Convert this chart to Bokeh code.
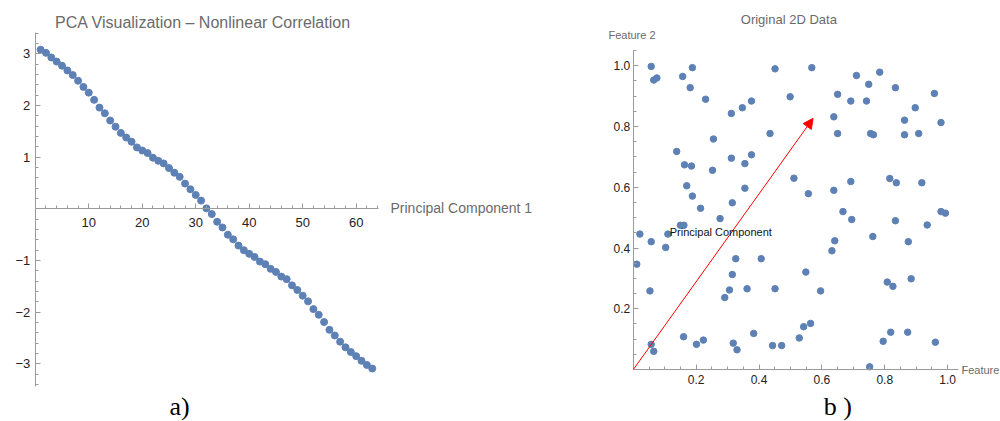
from bokeh.plotting import figure
from bokeh.models import (LinearAxis, FixedTicker, Range1d, Label, Arrow, NormalHead,
                          ColumnDataSource, CustomJSTickFormatter, PrintfTickFormatter)
from bokeh.layouts import row
from bokeh.embed import file_html
from bokeh.resources import INLINE

# ---------------- data ----------------
pc_index = list(range(1, 64))
pc1_values = [3.08, 3.02, 2.93, 2.85, 2.77, 2.68, 2.59, 2.48, 2.36, 2.25,
              2.11, 1.96, 1.85, 1.71, 1.59, 1.47, 1.38, 1.30, 1.19, 1.13,
              1.08, 0.99, 0.93, 0.88, 0.79, 0.70, 0.62, 0.49, 0.38, 0.27,
              0.16, 0.01, -0.10, -0.25, -0.36, -0.50, -0.59, -0.71, -0.80, -0.87,
              -0.93, -1.02, -1.07, -1.16, -1.22, -1.31, -1.36, -1.48, -1.57, -1.68,
              -1.79, -1.94, -2.05, -2.19, -2.34, -2.45, -2.57, -2.68, -2.77, -2.85,
              -2.94, -3.02, -3.09]

feature1 = [0.057, 0.065, 0.075, 0.157, 0.188, 0.181, 0.230, 0.312, 0.347, 0.376,
            0.451, 0.499, 0.435, 0.255, 0.138, 0.163, 0.185, 0.252, 0.312, 0.355,
            0.376, 0.511, 0.170, 0.188, 0.214, 0.315, 0.355, 0.557, 0.568, 0.710,
            0.784, 0.749, 0.834, 0.650, 0.692, 0.742, 0.958, 0.897, 0.638, 0.863,
            0.979, 0.650, 0.755, 0.764, 0.863, 0.908, 0.692, 0.816, 0.837, 0.918,
            0.638, 0.667, 0.979, 0.993, 0.276, 0.150, 0.161, 0.021, 0.110, 0.057,
            0.103, 0.011, 0.326, 0.407, 0.315, 0.306, 0.291, 0.362, 0.451, 0.053,
            0.549, 0.542, 0.528, 0.383, 0.160, 0.223, 0.201, 0.057, 0.065, 0.318,
            0.330, 0.443, 0.472, 0.695, 0.834, 0.935, 0.762, 0.875, 0.641, 0.632,
            0.808, 0.826, 0.884, 0.596, 0.564, 0.819, 0.873, 0.795, 0.961, 0.752]
feature2 = [0.998, 0.953, 0.960, 0.965, 0.994, 0.928, 0.890, 0.843, 0.862, 0.884,
            0.990, 0.898, 0.777, 0.759, 0.718, 0.674, 0.670, 0.656, 0.696, 0.678,
            0.707, 0.630, 0.605, 0.571, 0.531, 0.549, 0.597, 0.579, 0.994, 0.968,
            0.979, 0.939, 0.928, 0.906, 0.884, 0.884, 0.909, 0.862, 0.832, 0.821,
            0.813, 0.777, 0.777, 0.773, 0.773, 0.777, 0.619, 0.629, 0.615, 0.615,
            0.590, 0.520, 0.520, 0.515, 0.497, 0.475, 0.475, 0.446, 0.446, 0.421,
            0.402, 0.347, 0.365, 0.365, 0.313, 0.262, 0.237, 0.266, 0.266, 0.259,
            0.321, 0.141, 0.104, 0.119, 0.108, 0.097, 0.083, 0.083, 0.060, 0.087,
            0.065, 0.079, 0.079, 0.494, 0.490, 0.476, 0.438, 0.421, 0.424, 0.391,
            0.288, 0.274, 0.299, 0.259, 0.152, 0.123, 0.123, 0.093, 0.090, 0.009]

pc_arrow_start = (0.0, 0.0)
pc_arrow_end = (0.572, 0.827)

left_x_major = [10, 20, 30, 40, 50, 60]
left_x_minor = list(range(2, 65, 2))
left_y_major = [-3, -2, -1, 1, 2, 3]
left_y_minor = [round(-3.4 + 0.2 * i, 1) for i in range(35)]
right_major = [0.2, 0.4, 0.6, 0.8, 1.0]
right_minor = [round(0.05 * i, 2) for i in range(1, 22)]

# ---------------- style ----------------
DOT = "#5E81B5"
AXIS_GRAY = "#9a9a9a"
LABEL_DARK = "#222222"
TEXT_GRAY = "#6b6b6b"
SANS = "Liberation Sans"
SERIF = "Liberation Serif"


def style_axis(ax, size, standoff):
    ax.axis_line_color = AXIS_GRAY
    ax.major_tick_line_color = AXIS_GRAY
    ax.minor_tick_line_color = AXIS_GRAY
    ax.major_tick_in = 5
    ax.major_tick_out = 0
    ax.minor_tick_in = 3
    ax.minor_tick_out = 0
    ax.major_label_text_font = SANS
    ax.major_label_text_font_size = size
    ax.major_label_text_color = LABEL_DARK
    ax.major_label_standoff = standoff


minus_fmt = CustomJSTickFormatter(code="return String(tick).replace('-', '\\u2212');")

# ---------------- left plot ----------------
pl = figure(width=575, height=421, x_range=Range1d(-6.507, 101.01), y_range=Range1d(-4.115, 4.033),
            output_backend="svg", toolbar_location=None, x_axis_location=None, y_axis_location=None,
            min_border=0, outline_line_color=None)
pl.grid.visible = False

xl = LinearAxis(ticker=FixedTicker(ticks=left_x_major, minor_ticks=left_x_minor),
                fixed_location=0, bounds=(0, 64.17), formatter=minus_fmt)
style_axis(xl, "13px", 9)
pl.add_layout(xl, "below")
yl = LinearAxis(ticker=FixedTicker(ticks=left_y_major, minor_ticks=left_y_minor),
                fixed_location=0, bounds=(-3.431, 3.414), formatter=minus_fmt)
style_axis(yl, "13px", 5)
pl.add_layout(yl, "left")

src_l = ColumnDataSource(dict(x=pc_index, y=pc1_values))
pl.scatter("x", "y", source=src_l, size=7, fill_color=DOT, line_color=DOT)

pl.add_layout(Label(x=31.36, y=3.613, text="PCA Visualization \u2013 Nonlinear Correlation",
                    text_align="center", text_baseline="middle", text_font=SANS,
                    text_font_size="16px", text_color=TEXT_GRAY))
pl.add_layout(Label(x=66.42, y=0.02, text="Principal Component 1", text_align="left",
                    text_baseline="middle", text_font=SANS, text_font_size="14px",
                    text_color=TEXT_GRAY))
pl.add_layout(Label(x=26.96, y=-3.824, text="a)", text_align="center", text_baseline="middle",
                    text_font=SERIF, text_font_size="26px", text_color="#000000"))

# ---------------- right plot ----------------
pr = figure(width=425, height=421, x_range=Range1d(-0.1839, 1.1683), y_range=Range1d(-0.1710, 1.215),
            output_backend="svg", toolbar_location=None, x_axis_location=None, y_axis_location=None,
            min_border=0, outline_line_color=None)
pr.grid.visible = False

fmt1 = PrintfTickFormatter(format="%.1f")
xr = LinearAxis(ticker=FixedTicker(ticks=right_major, minor_ticks=right_minor),
                fixed_location=0, bounds=(0, 1.034), formatter=fmt1)
style_axis(xr, "12px", 5)
pr.add_layout(xr, "below")
yr = LinearAxis(ticker=FixedTicker(ticks=right_major, minor_ticks=right_minor),
                fixed_location=0, bounds=(0, 1.05), formatter=fmt1)
style_axis(yr, "12px", 3)
pr.add_layout(yr, "left")

src_r = ColumnDataSource(dict(x=feature1, y=feature2))
pr.scatter("x", "y", source=src_r, size=6.5, fill_color=DOT, line_color=DOT)

pr.add_layout(Arrow(x_start=pc_arrow_start[0], y_start=pc_arrow_start[1],
                    x_end=pc_arrow_end[0], y_end=pc_arrow_end[1],
                    line_color="red", line_width=1,
                    end=NormalHead(size=10, fill_color="red", line_color="red")))
pr.add_layout(Label(x=0.116, y=0.452, text="Principal Component", text_align="left",
                    text_baseline="middle", text_font=SANS, text_font_size="11px",
                    text_color="#111111"))
pr.add_layout(Label(x=0.4948, y=1.1534, text="Original 2D Data", text_align="center",
                    text_baseline="middle", text_font=SANS, text_font_size="13px",
                    text_color=TEXT_GRAY))
pr.add_layout(Label(x=-0.079, y=1.103, text="Feature 2", text_align="left",
                    text_baseline="middle", text_font=SANS, text_font_size="11px",
                    text_color=TEXT_GRAY))
pr.add_layout(Label(x=1.044, y=0.0, text="Feature", text_align="left",
                    text_baseline="middle", text_font=SANS, text_font_size="11px",
                    text_color=TEXT_GRAY))
pr.add_layout(Label(x=0.651, y=-0.1226, text="b )", text_align="center", text_baseline="middle",
                    text_font=SERIF, text_font_size="26px", text_color="#000000"))

layout = row(pl, pr)
open("out.html", "w", encoding="utf-8").write(file_html(layout, INLINE))
